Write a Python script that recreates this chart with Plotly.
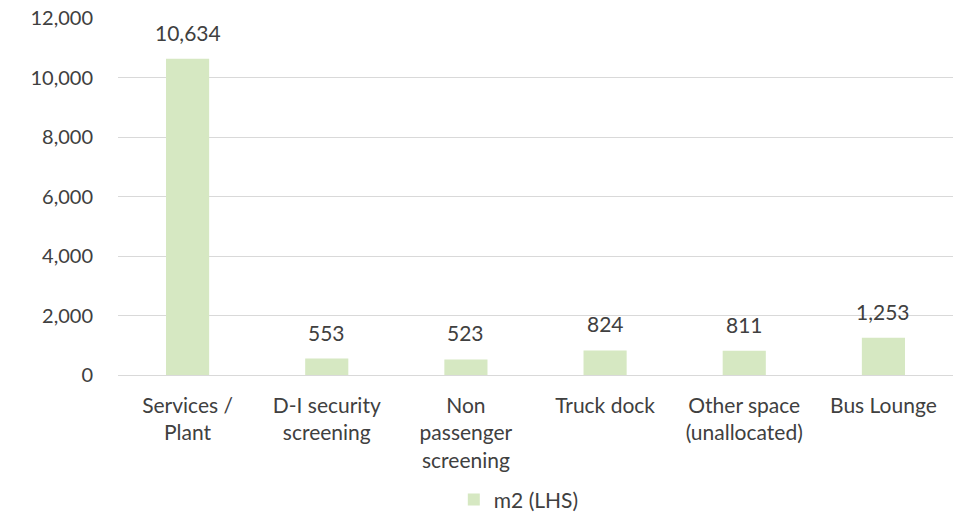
import plotly.graph_objects as go

categories = ["Services /<br>Plant", "D-I security<br>screening", "Non<br>passenger<br>screening",
              "Truck dock", "Other space<br>(unallocated)", "Bus Lounge"]
values = [10634, 553, 523, 824, 811, 1253]
series_name = "m2 (LHS)"
y_ticks = [0, 2000, 4000, 6000, 8000, 10000, 12000]

FONT = "Lato"
TXT = "#404040"
fig = go.Figure()
fig.add_trace(go.Bar(
    x=categories, y=values, name=series_name,
    marker=dict(color="#d6e8c2", line=dict(width=0)),
    width=0.31, showlegend=True,
))
for c, v in zip(categories, values):
    fig.add_annotation(x=c, y=v, text=f"{v:,}", showarrow=False,
                       yanchor="bottom", yshift=12,
                       font=dict(family=FONT, size=21, color=TXT))
fig.update_layout(
    width=962, height=514,
    margin=dict(l=118, r=9, t=18, b=139, autoexpand=False),
    paper_bgcolor="white", plot_bgcolor="white",
    font=dict(family=FONT, size=20, color=TXT),
    showlegend=True,
    legend=dict(orientation="h", x=0.48, xanchor="center", y=-0.35, yanchor="middle",
                font=dict(family=FONT, size=21, color=TXT), itemwidth=30),
)
fig.update_yaxes(range=[0, 12000], tickvals=y_ticks, tickformat=",",
                 showgrid=True, gridcolor="#d9d9d9", gridwidth=1,
                 zeroline=True, zerolinecolor="#d9d9d9", zerolinewidth=1,
                 showline=False, ticks="", ticklabelstandoff=24, automargin=False,
                 tickfont=dict(family=FONT, size=20, color=TXT))
fig.update_xaxes(showline=False, ticks="", showgrid=False, automargin=False,
                 tickfont=dict(family=FONT, size=21, color=TXT), ticklabelstandoff=16)
fig.write_html("out.html")
